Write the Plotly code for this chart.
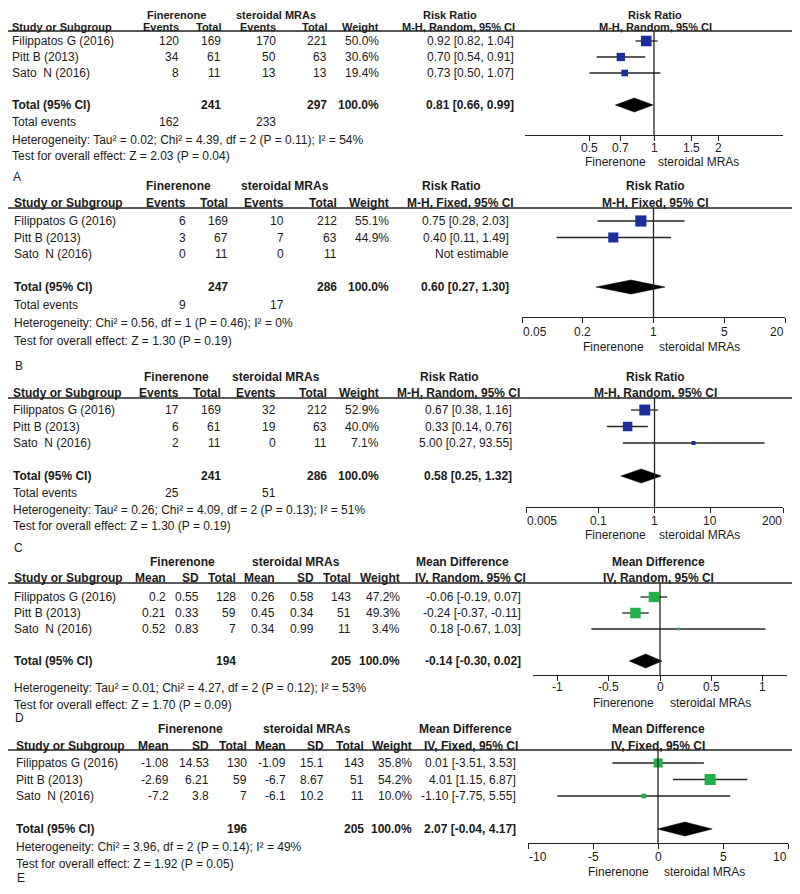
import math
import plotly.graph_objects as go

# page geometry: the page body keeps an 8 px margin, so the figure is drawn inside it
PAGE_W, PAGE_H = 800, 894
OFF = 8
WF, HF = PAGE_W - 2 * OFF, PAGE_H - 2 * OFF

FONT = "Liberation Sans, Arial, Helvetica, sans-serif"
TXT = "#1a1a1a"
LINE = "#222222"
BLUE = "#1c2e9c"
GREEN = "#22b04a"

studies = ["Filippatos G (2016)", "Pitt B (2013)", "Sato  N (2016)"]
group1 = "Finerenone"
group2 = "steroidal MRAs"

# ---------------- Panel A : Risk ratio, random ----------------
a_events1 = [120, 34, 8]
a_total1 = [169, 61, 11]
a_events2 = [170, 50, 13]
a_total2 = [221, 63, 13]
a_weight = [50.0, 30.6, 19.4]
a_est = [0.92, 0.70, 0.73]
a_lo = [0.82, 0.54, 0.50]
a_hi = [1.04, 0.91, 1.07]
a_pooled = [0.81, 0.66, 0.99]
a_sum_n = [241, 297]
a_sum_events = [162, 233]
a_het = "Heterogeneity: Tau² = 0.02; Chi² = 4.39, df = 2 (P = 0.11); I² = 54%"
a_test = "Test for overall effect: Z = 2.03 (P = 0.04)"
a_ticks = [0.5, 0.7, 1, 1.5, 2]
a_range = [0.25, 4]

# ---------------- Panel B : Risk ratio, fixed ----------------
b_events1 = [6, 3, 0]
b_total1 = [169, 67, 11]
b_events2 = [10, 7, 0]
b_total2 = [212, 63, 11]
b_weight = [55.1, 44.9, None]
b_est = [0.75, 0.40, None]
b_lo = [0.28, 0.11, None]
b_hi = [2.03, 1.49, None]
b_pooled = [0.60, 0.27, 1.30]
b_sum_n = [247, 286]
b_sum_events = [9, 17]
b_het = "Heterogeneity: Chi² = 0.56, df = 1 (P = 0.46); I² = 0%"
b_test = "Test for overall effect: Z = 1.30 (P = 0.19)"
b_ticks = [0.05, 0.2, 1, 5, 20]
b_range = [0.05, 20]

# ---------------- Panel C : Risk ratio, random ----------------
c_events1 = [17, 6, 2]
c_total1 = [169, 61, 11]
c_events2 = [32, 19, 0]
c_total2 = [212, 63, 11]
c_weight = [52.9, 40.0, 7.1]
c_est = [0.67, 0.33, 5.00]
c_lo = [0.38, 0.14, 0.27]
c_hi = [1.16, 0.76, 93.55]
c_pooled = [0.58, 0.25, 1.32]
c_sum_n = [241, 286]
c_sum_events = [25, 51]
c_het = "Heterogeneity: Tau² = 0.26; Chi² = 4.09, df = 2 (P = 0.13); I² = 51%"
c_test = "Test for overall effect: Z = 1.30 (P = 0.19)"
c_ticks = [0.005, 0.1, 1, 10, 200]
c_range = [0.005, 200]

# ---------------- Panel D : Mean difference, random ----------------
d_mean1 = [0.2, 0.21, 0.52]
d_sd1 = [0.55, 0.33, 0.83]
d_total1 = [128, 59, 7]
d_mean2 = [0.26, 0.45, 0.34]
d_sd2 = [0.58, 0.34, 0.99]
d_total2 = [143, 51, 11]
d_weight = [47.2, 49.3, 3.4]
d_est = [-0.06, -0.24, 0.18]
d_lo = [-0.19, -0.37, -0.67]
d_hi = [0.07, -0.11, 1.03]
d_pooled = [-0.14, -0.30, 0.02]
d_sum_n = [194, 205]
d_het = "Heterogeneity: Tau² = 0.01; Chi² = 4.27, df = 2 (P = 0.12); I² = 53%"
d_test = "Test for overall effect: Z = 1.70 (P = 0.09)"
d_ticks = [-1, -0.5, 0, 0.5, 1]
d_range = [-1.24, 1.24]

# ---------------- Panel E : Mean difference, fixed ----------------
e_mean1 = [-1.08, -2.69, -7.2]
e_sd1 = [14.53, 6.21, 3.8]
e_total1 = [130, 59, 7]
e_mean2 = [-1.09, -6.7, -6.1]
e_sd2 = [15.1, 8.67, 10.2]
e_total2 = [143, 51, 11]
e_weight = [35.8, 54.2, 10.0]
e_est = [0.01, 4.01, -1.10]
e_lo = [-3.51, 1.15, -7.75]
e_hi = [3.53, 6.87, 5.55]
e_pooled = [2.07, -0.04, 4.17]
e_sum_n = [196, 205]
e_het = "Heterogeneity: Chi² = 3.96, df = 2 (P = 0.14); I² = 49%"
e_test = "Test for overall effect: Z = 1.92 (P = 0.05)"
e_ticks = [-10, -5, 0, 5, 10]
e_range = [-10, 10]

total_weight = 100.0

# ---------------- assemble panels (data + layout positions in page pixels) ----------------
panels = [
    dict(label="A", kind="rr", effect="Risk Ratio", method="M-H, Random, 95% CI",
         cols=[a_events1, a_total1, a_events2, a_total2], heads=["Events", "Total", "Events", "Total"],
         weight=a_weight, est=a_est, lo=a_lo, hi=a_hi, pooled=a_pooled, sum_n=a_sum_n,
         sum_events=a_sum_events, het=a_het, test=a_test, ticks=a_ticks, rng=a_range, color=BLUE,
         hdr1=15, hdr2=27, hfs=11, line=31, row0=41, rowh=16, tev=122, hety=140, testy=156, laby=177,
         sx=11, colx=[180, 222, 277, 328], wx=380, grp=[176, 276], effc=450, methc=458, valr=515,
         px=(525, 783), axis=135, plotc=655, dirl=647, dirr=657, tky=148, diry=162, ref=1),
    dict(label="B", kind="rr", effect="Risk Ratio", method="M-H, Fixed, 95% CI",
         cols=[b_events1, b_total1, b_events2, b_total2], heads=["Events", "Total", "Events", "Total"],
         weight=b_weight, est=b_est, lo=b_lo, hi=b_hi, pooled=b_pooled, sum_n=b_sum_n,
         sum_events=b_sum_events, het=b_het, test=b_test, ticks=b_ticks, rng=b_range, color=BLUE,
         hdr1=186, hdr2=203, hfs=12, line=208, row0=221, rowh=16.5, tev=305, hety=323, testy=341, laby=366,
         sx=13, colx=[187, 229, 285, 338], wx=390, grp=[178, 285], effc=451, methc=461, valr=510,
         px=(522, 785), axis=317, plotc=655, dirl=645, dirr=658, tky=332, diry=347, ref=1),
    dict(label="C", kind="rr", effect="Risk Ratio", method="M-H, Random, 95% CI",
         cols=[c_events1, c_total1, c_events2, c_total2], heads=["Events", "Total", "Events", "Total"],
         weight=c_weight, est=c_est, lo=c_lo, hi=c_hi, pooled=c_pooled, sum_n=c_sum_n,
         sum_events=c_sum_events, het=c_het, test=c_test, ticks=c_ticks, rng=c_range, color=BLUE,
         hdr1=377, hdr2=393, hfs=12, line=398, row0=410, rowh=16.5, tev=493, hety=510, testy=526, laby=548,
         sx=12, colx=[180, 222, 277, 328], wx=380, grp=[176, 276], effc=449, methc=458, valr=513,
         px=(526, 783), axis=507, plotc=655, dirl=647, dirr=658, tky=521, diry=535, ref=1),
    dict(label="D", kind="md", effect="Mean Difference", method="IV, Random, 95% CI",
         cols=[d_mean1, d_sd1, d_total1, d_mean2, d_sd2, d_total2],
         heads=["Mean", "SD", "Total", "Mean", "SD", "Total"],
         weight=d_weight, est=d_est, lo=d_lo, hi=d_hi, pooled=d_pooled, sum_n=d_sum_n,
         sum_events=None, het=d_het, test=d_test, ticks=d_ticks, rng=d_range, color=GREEN,
         hdr1=562, hdr2=578, hfs=12, line=583, row0=597, rowh=16, tev=None, hety=688, testy=705, laby=718,
         sx=13, colx=[167, 200, 237, 276, 315, 352], wx=401, grp=[182, 296], effc=462, methc=470, valr=522,
         px=(533, 787), axis=675, plotc=658, dirl=655, dirr=669, tky=687, diry=703, ref=0),
    dict(label="E", kind="md", effect="Mean Difference", method="IV, Fixed, 95% CI",
         cols=[e_mean1, e_sd1, e_total1, e_mean2, e_sd2, e_total2],
         heads=["Mean", "SD", "Total", "Mean", "SD", "Total"],
         weight=e_weight, est=e_est, lo=e_lo, hi=e_hi, pooled=e_pooled, sum_n=e_sum_n,
         sum_events=None, het=e_het, test=e_test, ticks=e_ticks, rng=e_range, color=GREEN,
         hdr1=729, hdr2=746, hfs=12, line=750, row0=763, rowh=16.5, tev=None, hety=847, testy=864, laby=878,
         sx=15, colx=[170, 210, 248, 287, 325, 365], wx=413, grp=[190, 307], effc=465, methc=471, valr=517,
         px=(528, 788), axis=843, plotc=658, dirl=650, dirr=663, tky=857, diry=872, ref=0),
]


def fx(x):
    return (x - OFF) / WF


def fy(y):
    return 1 - (y - OFF) / HF


fig = go.Figure()
ann = []
shapes = []


def T(x, y, s, anchor="left", bold=False, size=12):
    ann.append(dict(xref="paper", yref="paper", x=fx(x), y=fy(y),
                    text=(f"<b>{s}</b>" if bold else s), showarrow=False,
                    xanchor=anchor, yanchor="middle", borderpad=0,
                    font=dict(family=FONT, size=size, color=TXT)))


TOTAL_ROW = 4
for k, p in enumerate(panels, start=1):
    sfx = "" if k == 1 else str(k)
    xa, ya = "x" + sfx, "y" + sfx
    rowy = lambda i, p=p: p["row0"] + i * p["rowh"]
    is_log = p["kind"] == "rr"
    hs = p["hfs"]

    # ----- table headers -----
    T(p["grp"][0], p["hdr1"], group1, "center", True, hs)
    T(p["grp"][1], p["hdr1"], group2, "center", True, hs)
    T(p["effc"], p["hdr1"], p["effect"], "center", True, hs)
    T(p["plotc"], p["hdr1"], p["effect"], "center", True, hs)
    T(p["sx"], p["hdr2"], "Study or Subgroup", "left", True, hs)
    for cx, h in zip(p["colx"], p["heads"]):
        T(cx, p["hdr2"], h, "right", True, hs)
    T(p["wx"], p["hdr2"], "Weight", "right", True, hs)
    T(p["methc"], p["hdr2"], p["method"], "center", True, hs)
    T(p["plotc"], p["hdr2"], p["method"], "center", True, hs)
    shapes.append(dict(type="line", xref="paper", yref="paper", x0=fx(0), x1=fx(PAGE_W),
                       y0=fy(p["line"]), y1=fy(p["line"]),
                       line=dict(color=LINE, width=1.6)))

    # ----- study rows -----
    for i, name in enumerate(studies):
        y = rowy(i)
        T(p["sx"], y, name)
        for cx, col in zip(p["colx"], p["cols"]):
            T(cx, y, str(col[i]), "right")
        if p["weight"][i] is not None:
            T(p["wx"], y, f"{p['weight'][i]:.1f}%", "right")
        if p["est"][i] is not None:
            T(p["valr"], y, f"{p['est'][i]:.2f} [{p['lo'][i]:.2f}, {p['hi'][i]:.2f}]", "right")
        else:
            T(p["valr"], y, "Not estimable", "right")

    # ----- total rows -----
    y = rowy(TOTAL_ROW)
    T(p["sx"], y, "Total (95% CI)", "left", True)
    if is_log:
        n_cols = [p["colx"][1], p["colx"][3]]
    else:
        n_cols = [p["colx"][2], p["colx"][5]]
    T(n_cols[0], y, str(p["sum_n"][0]), "right", True)
    T(n_cols[1], y, str(p["sum_n"][1]), "right", True)
    T(p["wx"], y, f"{total_weight:.1f}%", "right", True)
    pe, pl, ph = p["pooled"]
    T(p["valr"], y, f"{pe:.2f} [{pl:.2f}, {ph:.2f}]", "right", True)
    if p["sum_events"] is not None:
        T(p["sx"], p["tev"], "Total events")
        T(p["colx"][0], p["tev"], str(p["sum_events"][0]), "right")
        T(p["colx"][2], p["tev"], str(p["sum_events"][1]), "right")
    T(p["sx"], p["hety"], p["het"])
    T(p["sx"], p["testy"], p["test"])
    T(p["sx"] + 1, p["laby"], p["label"])

    # ----- forest plot -----
    lx, ly = [], []
    for i in range(len(studies)):
        if p["est"][i] is None:
            continue
        lx += [p["lo"][i], p["hi"][i], None]
        ly += [i, i, None]
    fig.add_trace(go.Scatter(x=lx, y=ly, mode="lines", line=dict(color="#262626", width=1.3),
                             xaxis=xa, yaxis=ya, hoverinfo="skip", showlegend=False))
    mx, my, ms = [], [], []
    for i in range(len(studies)):
        if p["est"][i] is None:
            continue
        mx.append(p["est"][i])
        my.append(i)
        ms.append(max(2.5, 1.5 * p["weight"][i] ** 0.5))
    fig.add_trace(go.Scatter(x=mx, y=my, mode="markers",
                             marker=dict(symbol="square", size=ms, color=p["color"], opacity=1,
                                         line=dict(width=0)),
                             xaxis=xa, yaxis=ya, hoverinfo="skip", showlegend=False))
    hh = 7.0 / p["rowh"]
    fig.add_trace(go.Scatter(x=[pl, pe, ph, pe, pl],
                             y=[TOTAL_ROW, TOTAL_ROW - hh, TOTAL_ROW, TOTAL_ROW + hh, TOTAL_ROW],
                             mode="lines", fill="toself", fillcolor="#000000",
                             line=dict(color="#000000", width=0.5),
                             xaxis=xa, yaxis=ya, hoverinfo="skip", showlegend=False))

    rng = [math.log10(p["rng"][0]), math.log10(p["rng"][1])] if is_log else p["rng"]
    fig.layout["xaxis" + sfx] = dict(
        domain=[fx(p["px"][0]), fx(p["px"][1])], anchor=ya,
        type="log" if is_log else "linear", range=rng,
        tickvals=p["ticks"], showticklabels=False,
        ticks="outside", ticklen=5, tickwidth=1.2, tickcolor=LINE,
        showline=True, linecolor=LINE, linewidth=1.3,
        showgrid=False, zeroline=False, fixedrange=True)
    fig.layout["yaxis" + sfx] = dict(
        domain=[fy(p["axis"]), fy(p["line"])], anchor=xa,
        range=[(p["axis"] - p["row0"]) / p["rowh"], (p["line"] - p["row0"]) / p["rowh"]],
        visible=False, fixedrange=True)
    shapes.append(dict(type="line", xref=xa, yref=ya + " domain", x0=p["ref"], x1=p["ref"],
                       y0=0, y1=1, line=dict(color=LINE, width=1.3)))
    # tick labels, placed on the axis scale (end labels kept inside the axis span)
    for t in p["ticks"]:
        if t == p["rng"][0]:
            anc = "left"
        elif t == p["rng"][1]:
            anc = "right"
        else:
            anc = "center"
        ann.append(dict(xref=xa, yref="paper", x=(math.log10(t) if is_log else t), y=fy(p["tky"]),
                        text=f"{t:g}", showarrow=False, xanchor=anc, yanchor="middle", borderpad=0,
                        font=dict(family=FONT, size=12, color=TXT)))
    T(p["dirl"], p["diry"], group1, "right")
    T(p["dirr"], p["diry"], group2, "left")

fig.update_layout(width=WF, height=HF, margin=dict(l=0, r=0, t=0, b=0),
                  paper_bgcolor="white", plot_bgcolor="white", showlegend=False,
                  annotations=ann, shapes=shapes,
                  font=dict(family=FONT, size=12, color=TXT))
fig.write_html("out.html")
